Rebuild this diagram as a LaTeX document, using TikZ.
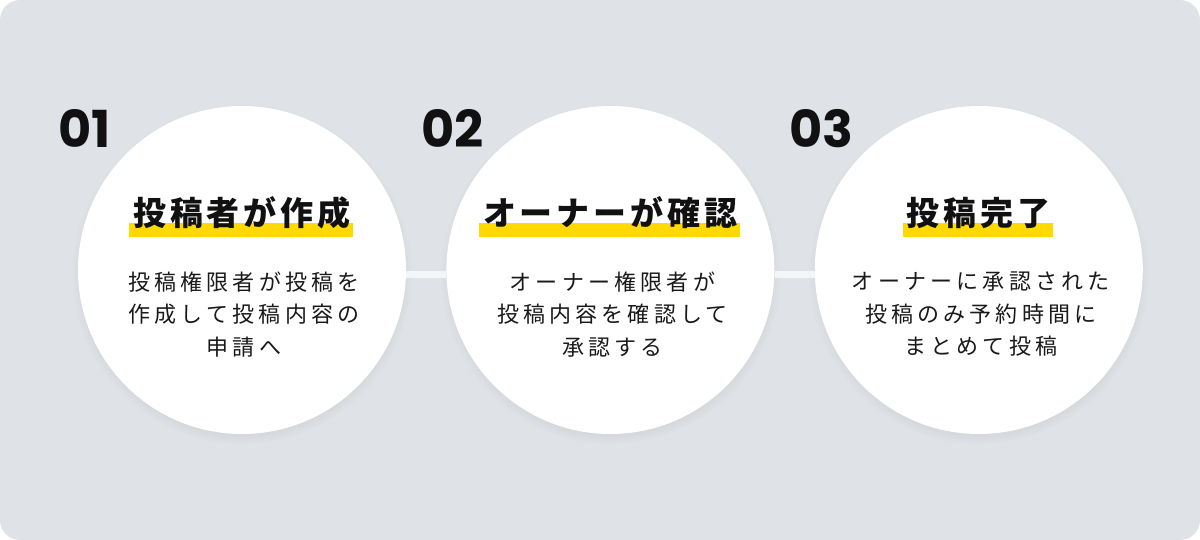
\documentclass[tikz,border=0pt]{standalone}
\usepackage{fontspec}
\usetikzlibrary{positioning,shadows}
\newfontfamily\jptitle{Noto Sans CJK JP}[LetterSpace=12]
\newfontfamily\jpbody{Noto Sans CJK JP}[LetterSpace=19]
\newfontfamily\numfont{Poppins}
\definecolor{bggray}{HTML}{DFE2E7}
\definecolor{hlyellow}{HTML}{FFD900}
\definecolor{barwhite}{HTML}{F4F5F7}
\definecolor{ink}{HTML}{111111}
\definecolor{bodyink}{HTML}{1A1A1A}
\newcommand{\marker}[1]{\setbox0\hbox{#1}\rlap{\hspace{-4pt}\textcolor{hlyellow}{\rule[-11pt]{\dimexpr\wd0+6pt\relax}{14pt}}}\box0}

\begin{document}
\begin{tikzpicture}[
        x=1pt, y=-1pt,
        disc/.style={circle, fill=white, minimum size=328pt, inner sep=0pt,
            circular drop shadow={shadow xshift=0pt, shadow yshift=-4pt,
                shadow scale=1.035, opacity=0.25}},
        num/.style={anchor=base west, inner sep=0pt, text=ink,
            font=\numfont\bfseries\fontsize{51}{51}\selectfont},
        title/.style={anchor=base, inner sep=0pt, text=ink,
            font=\jptitle\bfseries\fontsize{33}{33}\selectfont},
        body/.style={align=center, inner sep=0pt, text=bodyink,
            font=\jpbody\fontsize{22}{32.5}\selectfont},
        bar/.style={draw=barwhite, line width=7pt}
    ]
    \useasboundingbox (0,0) rectangle (1200,540);
    \fill [bggray, rounded corners=20pt] (0,0) rectangle (1200,540);

    \node [disc] (c1) at (242,270) {};
    \node [disc, right=40pt of c1] (c2) {};
    \node [disc, right=40pt of c2] (c3) {};

    \draw [bar] ([yshift=-5pt]c1.east) -- ([yshift=-5pt]c2.west);
    \draw [bar] ([yshift=-5pt]c2.east) -- ([yshift=-5pt]c3.west);

    \node [num] (n1) at ([xshift=-184pt, yshift=122pt]c1.center) {01};
    \node [num] (n2) at ([xshift=-189pt, yshift=122pt]c2.center) {02};
    \node [num] (n3) at ([xshift=-190pt, yshift=122pt]c3.center) {03};

    \node [title] (t1) at ([yshift=44pt]c1.center) {\marker{投稿者が作成}};
    \node [title] (t2) at ([yshift=44pt]c2.center) {\marker{オーナーが確認}};
    \node [title] (t3) at ([yshift=44pt]c3.center) {\marker{投稿完了}};

    \node [body] (b1) at ([xshift=2pt, yshift=-44.5pt]c1.center) {投稿権限者が投稿を\\作成して投稿内容の\\申請へ};
    \node [body] (b2) at ([xshift=2pt, yshift=-44.5pt]c2.center) {オーナー権限者が\\投稿内容を確認して\\承認する};
    \node [body] (b3) at ([xshift=2pt, yshift=-44.5pt]c3.center) {オーナーに承認された\\投稿のみ予約時間に\\まとめて投稿};
\end{tikzpicture}
\end{document}
